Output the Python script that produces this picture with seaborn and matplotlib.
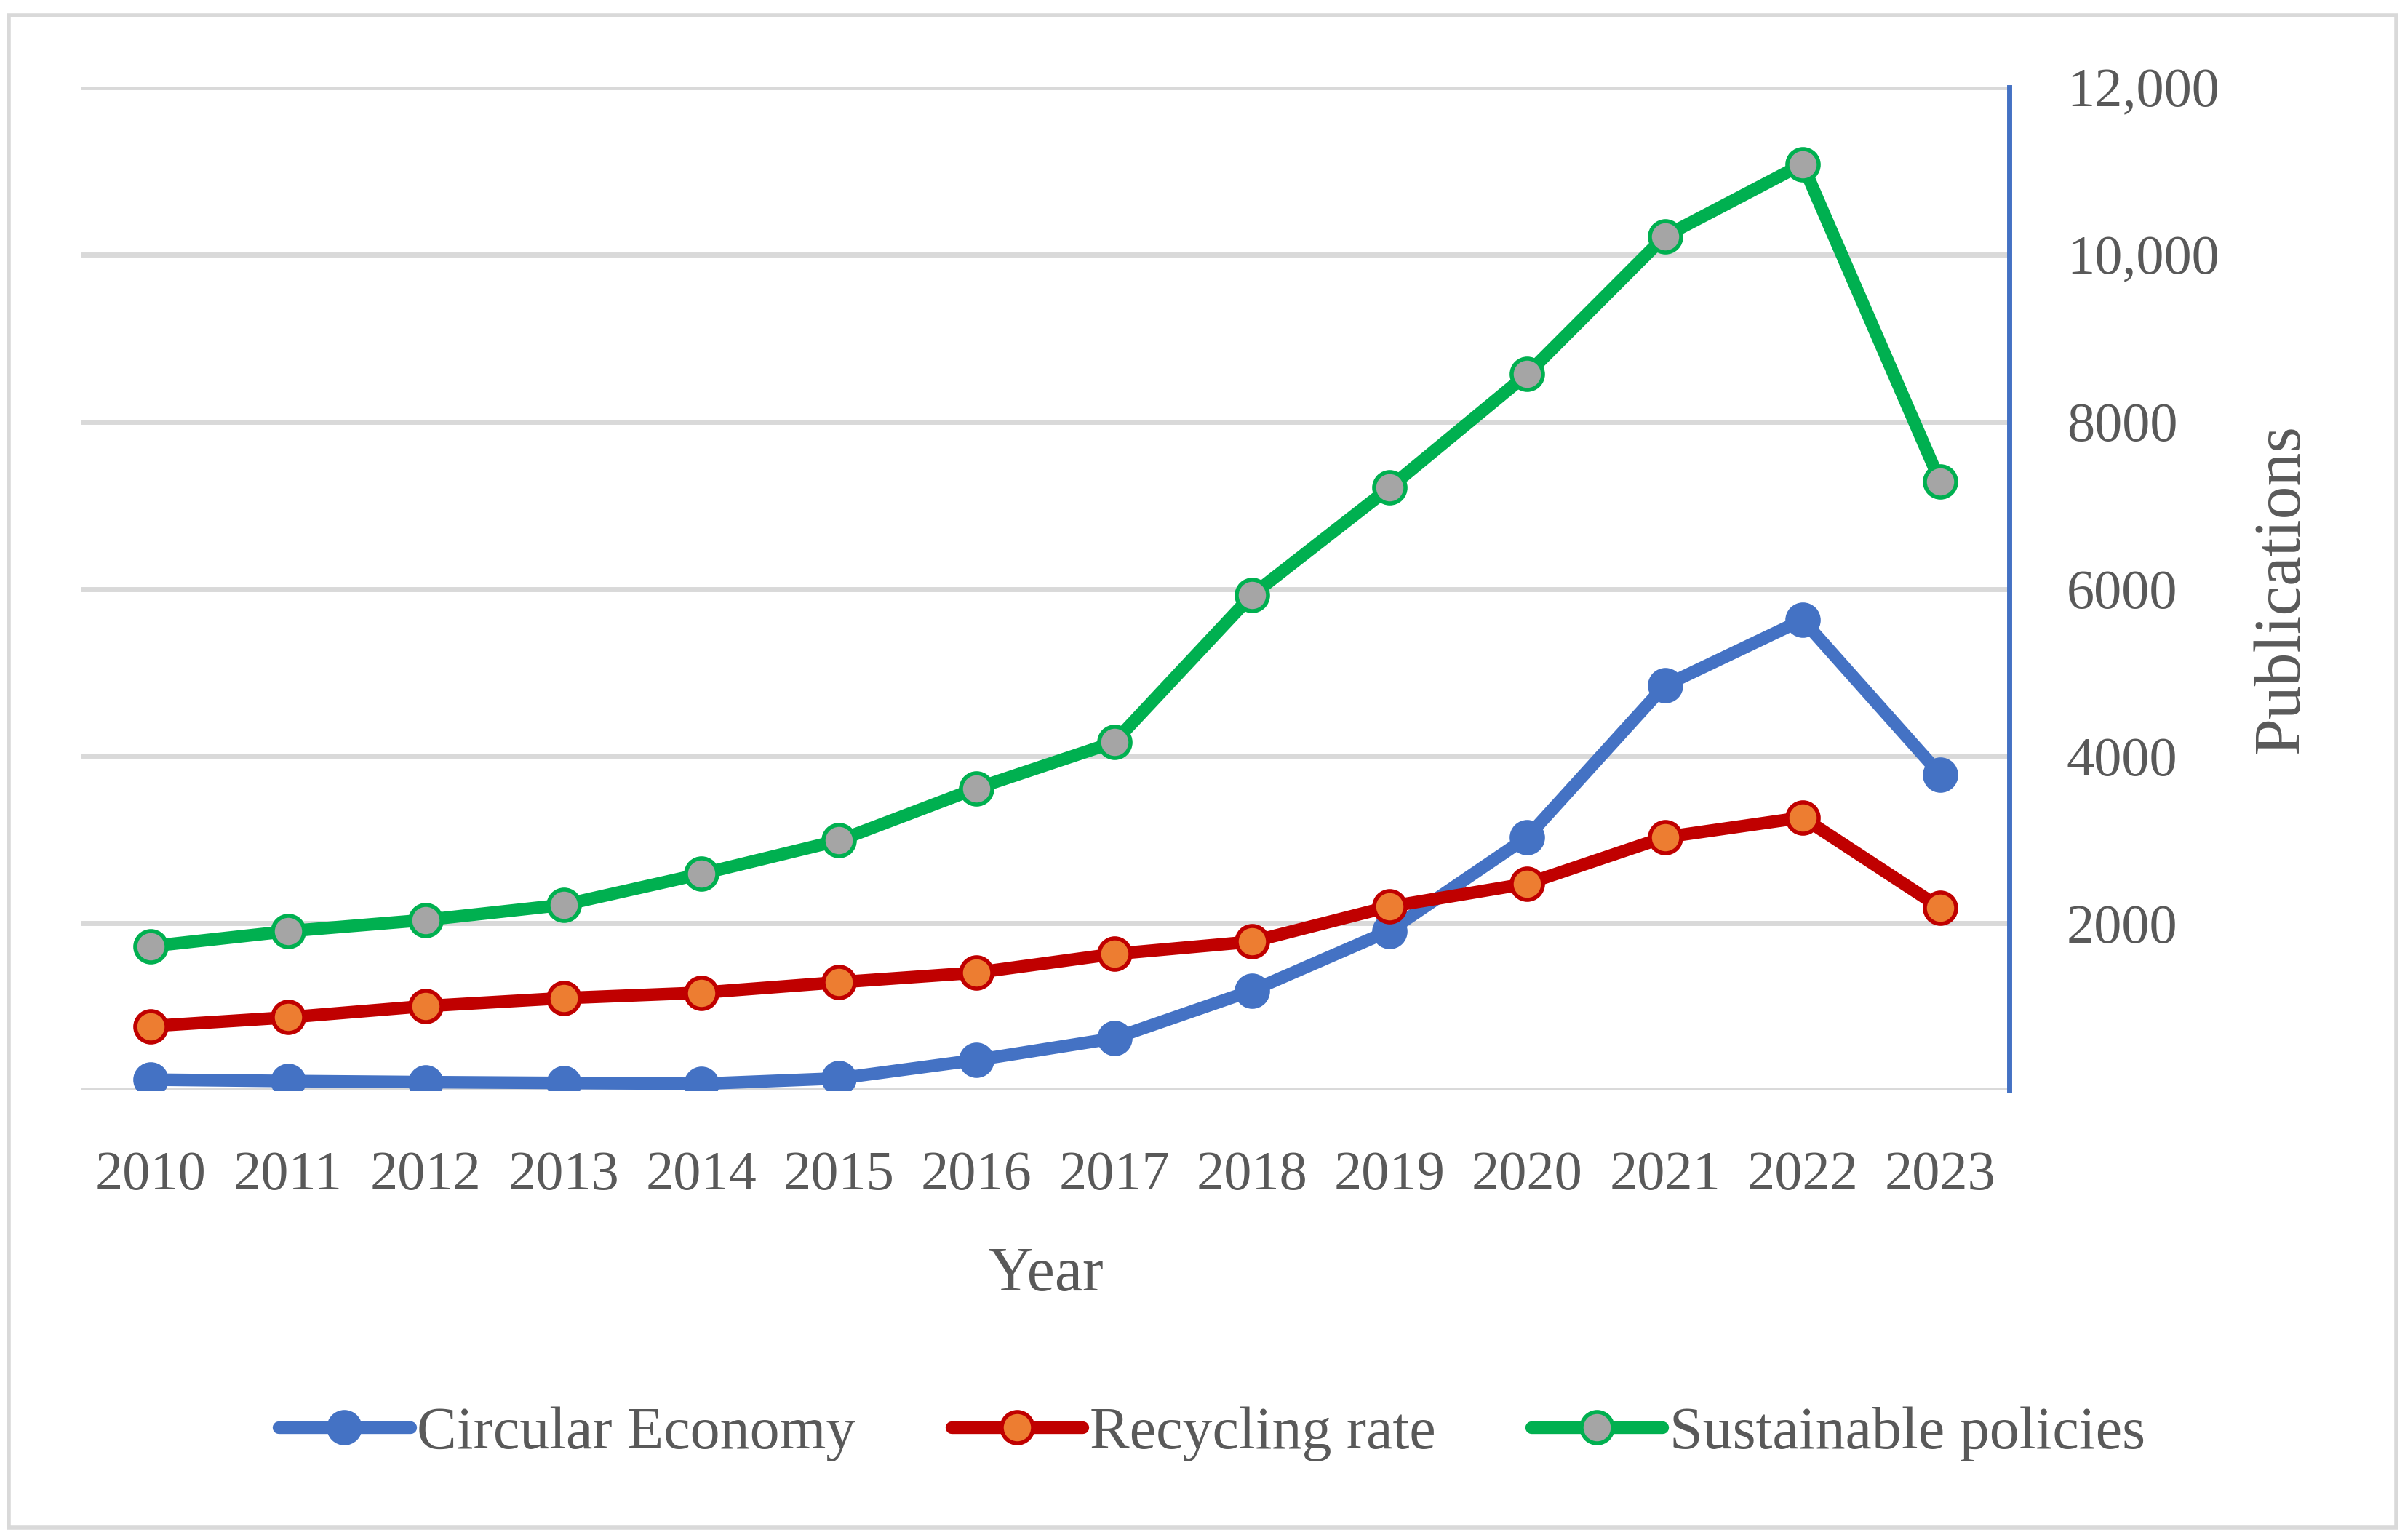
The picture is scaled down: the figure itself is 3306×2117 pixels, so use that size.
import matplotlib
matplotlib.use("Agg")
import matplotlib.pyplot as plt
import seaborn as sns
from matplotlib.patches import Rectangle

# Style
sns.set_style("white")
plt.rcParams['font.family'] = ['Liberation Serif', 'DejaVu Serif']

# -----------------------------
# DATA
# -----------------------------
years = [2010, 2011, 2012, 2013, 2014, 2015, 2016, 2017, 2018, 2019, 2020, 2021, 2022, 2023]
circular_economy = [130, 113, 100, 90, 80, 145, 365, 625, 1195, 1910, 3030, 4845, 5630, 3780]
recycling_rate = [770, 875, 1010, 1105, 1170, 1295, 1410, 1633, 1780, 2200, 2475, 3030, 3265, 2185]
sustainable_policies = [1725, 1905, 2040, 2220, 2590, 2990, 3615, 4165, 5925, 7210, 8570, 10220, 11080, 7280]

ytick_values = [0, 2000, 4000, 6000, 8000, 10000, 12000]
ytick_labels = ["", "2000", "4000", "6000", "8000", "10,000", "12,000"]

TEXT = "#595959"

fig = plt.figure(figsize=(33.06, 21.17), dpi=100)
ax = fig.add_axes([0.0339, 0.2919, 0.8015, 0.6514])

series = [
    ("Circular Economy", circular_economy, "#4472C4", "#4472C4", "#4472C4"),
    ("Recycling rate", recycling_rate, "#C00000", "#ED7D31", "#C00000"),
    ("Sustainable policies", sustainable_policies, "#00B050", "#A5A5A5", "#00B050"),
]

for name, vals, line_c, face_c, edge_c in series:
    sns.lineplot(x=years, y=vals, ax=ax, label=name, color=line_c, linewidth=12.5,
                 marker="o", markersize=31, markerfacecolor=face_c,
                 markeredgecolor=edge_c, markeredgewidth=4, zorder=3)

# Axes
ax.set_xlim(2009.5, 2023.5)
ax.set_ylim(0, 12000)
ax.set_xticks(years)
ax.set_xticklabels([str(y) for y in years])
ax.set_yticks(ytick_values)
ax.set_yticklabels(ytick_labels)
ax.yaxis.tick_right()
ax.yaxis.set_label_position("right")

ax.tick_params(axis="x", length=0, pad=60, labelsize=55, labelcolor=TEXT)
ax.tick_params(axis="y", length=0, pad=57, labelsize=55, labelcolor=TEXT)

ax.set_xlabel("Year", fontsize=62, color=TEXT, labelpad=45)
ax.set_ylabel("Publications", fontsize=66, color=TEXT)
ax.yaxis.set_label_coords(1.126, 0.5)

ax.grid(axis="y", color="#D9D9D9", linewidth=5)
ax.set_axisbelow(True)

for side in ["top", "left", "bottom"]:
    ax.spines[side].set_visible(False)
ax.spines["right"].set_color("#4472C4")
ax.spines["right"].set_linewidth(5)

# Legend
ax.legend_.remove()
handles, labels = ax.get_legend_handles_labels()
fig.legend(handles, labels, loc="center", bbox_to_anchor=(0.504, 0.069), ncol=3,
           frameon=False, fontsize=59, labelcolor=TEXT, handlelength=2.2,
           handletextpad=0.12, columnspacing=1.6)

# Outer chart border
fig.patches.append(Rectangle((0.0035, 0.008), 0.993, 0.982, transform=fig.transFigure,
                             fill=False, edgecolor="#D9D9D9", linewidth=4))

plt.savefig("out.png", dpi=100)
